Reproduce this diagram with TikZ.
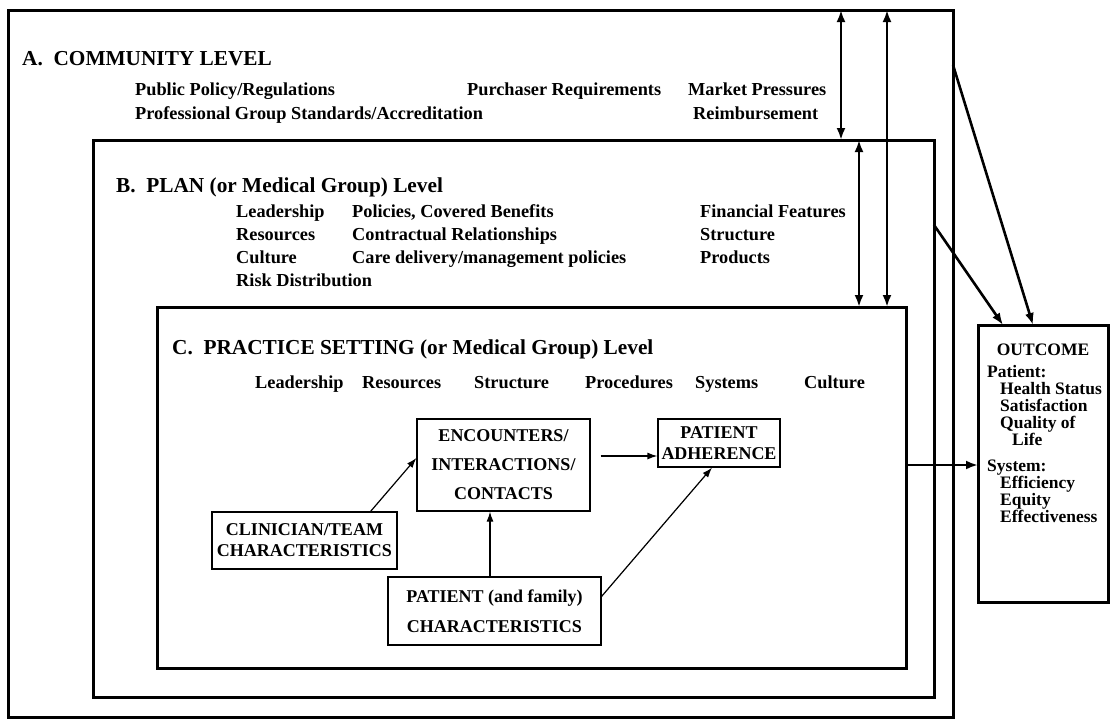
\documentclass[tikz,border=0pt]{standalone}
\usepackage{fontspec}
\setmainfont{Liberation Serif}
\usetikzlibrary{arrows.meta,positioning}

\begin{document}
\begin{tikzpicture}[x=1pt,y=-1pt,
  level/.style={draw,line width=3pt,inner sep=0pt,outer sep=0pt,anchor=north west},
  head/.style={anchor=base west,inner sep=0pt,font=\fontsize{21.3}{25}\selectfont\bfseries},
  item/.style={anchor=base west,inner sep=0pt,font=\fontsize{18.3}{21}\selectfont\bfseries},
  factor/.style={draw,line width=1.2pt,align=center,inner sep=0pt,font=\fontsize{18}{21}\selectfont\bfseries},
  link/.style={-{Latex[length=10pt,width=7pt]},line width=1.2pt},
  bold link/.style={-{Latex[length=12pt,width=9pt]},line width=2.6pt},
  both/.style={{Latex[length=12pt,width=9pt]}-{Latex[length=12pt,width=9pt]},line width=2.6pt}]
\useasboundingbox (0,0) rectangle (1110,723);

% the nested levels
\node[level,minimum width=945pt,minimum height=707pt] (comm) at (8,10) {};
\node[level,minimum width=841pt,minimum height=557pt] (plan) at (93,140) {};
\node[level,minimum width=749pt,minimum height=361pt] (prac) at (157,307) {};
\node[level,minimum width=130pt,minimum height=277pt] (outc) at (978,325) {};

% A
\node[head] (commT) at (22,65) {A.\ \ COMMUNITY LEVEL};
\node[item] (pub) at (135,95) {Public Policy/Regulations};
\node[item] (purch) at (467,95) {Purchaser Requirements};
\node[item] (market) at (688,95) {Market Pressures};
\node[item] (prof) at (135,119) {Professional Group Standards/Accreditation};
\node[item] (reimb) at (693,119) {Reimbursement};

% B
\node[head] (planT) at (116,192) {B.\ \ PLAN (or Medical Group) Level};
\node[item] (pLead) at (236,217) {Leadership};
\node[item] (pPol) at (352,217) {Policies, Covered Benefits};
\node[item] (pFin) at (700,217) {Financial Features};
\node[item] (pRes) at (236,240) {Resources};
\node[item] (pCon) at (352,240) {Contractual Relationships};
\node[item] (pStr) at (700,240) {Structure};
\node[item] (pCul) at (236,263) {Culture};
\node[item] (pCare) at (352,263) {Care delivery/management policies};
\node[item] (pProd) at (700,263) {Products};
\node[item] (pRisk) at (236,286) {Risk Distribution};

% C
\node[head] (pracT) at (172,354) {C.\ \ PRACTICE SETTING (or Medical Group) Level};
\node[item] (cLead) at (255,388) {Leadership};
\node[item] (cRes) at (362,388) {Resources};
\node[item] (cStr) at (474,388) {Structure};
\node[item] (cProc) at (585,388) {Procedures};
\node[item] (cSys) at (695,388) {Systems};
\node[item] (cCul) at (804,388) {Culture};

\node[factor,minimum width=173pt,minimum height=92pt] (enc) at (503.5,465) {ENCOUNTERS/\\[8pt]INTERACTIONS/\\[8pt]CONTACTS};
\node[factor,minimum width=122pt,minimum height=48pt] (adh) at (719,443) {PATIENT\\ADHERENCE};
\node[factor,minimum width=185pt,minimum height=57pt] (clin) at (304.5,540.5) {CLINICIAN/TEAM\\CHARACTERISTICS};
\node[factor,minimum width=213pt,minimum height=68pt] (pat) at (494.5,611) {PATIENT (and family)\\[9pt]CHARACTERISTICS};

% outcome
\node[item,anchor=base,font=\fontsize{17.5}{17}\selectfont\bfseries] (outcH) at (1043,355) {OUTCOME};
\node[anchor=north west,align=left,inner sep=0pt,font=\fontsize{17.5}{17}\selectfont\bfseries] (outcT) at (987,365)
  {Patient:\\\hspace*{13pt}Health Status\\\hspace*{13pt}Satisfaction\\\hspace*{13pt}Quality of\\\hspace*{25pt}Life\\[9pt]
   System:\\\hspace*{13pt}Efficiency\\\hspace*{13pt}Equity\\\hspace*{13pt}Effectiveness};

% connectors
\coordinate (ka) at (841,0);
\coordinate (kb) at (887,0);
\coordinate (kc) at (859,0);
\coordinate (ya) at (0,65);
\coordinate (yb) at (0,225);
\coordinate (yc) at (0,465);
\coordinate (xa) at (1033,0);
\coordinate (xb) at (1003,0);
\draw[both] (ka |- comm.north) -- (ka |- plan.north);
\draw[both] (kb |- comm.north) -- (kb |- prac.north);
\draw[both] (kc |- plan.north) -- (kc |- prac.north);
\draw[bold link] (comm.east |- ya) -- (outc.north -| xa);
\draw[bold link] (plan.east |- yb) -- (outc.north -| xb);
\draw[bold link] (prac.east |- yc) -- (outc.west |- yc);

\coordinate (pe) at (490,0);
\coordinate (ea) at (0,456);
\draw[link] ([xshift=-27pt]clin.north east) -- ([yshift=7pt]enc.west);
\draw[link] (pat.north -| pe) -- (enc.south -| pe);
\draw[link,shorten <=10pt] (enc.east |- ea) -- (adh.west |- ea);
\draw[link] ([yshift=-20pt]pat.north east) -- ([xshift=-7pt]adh.south);
\end{tikzpicture}
\end{document}
